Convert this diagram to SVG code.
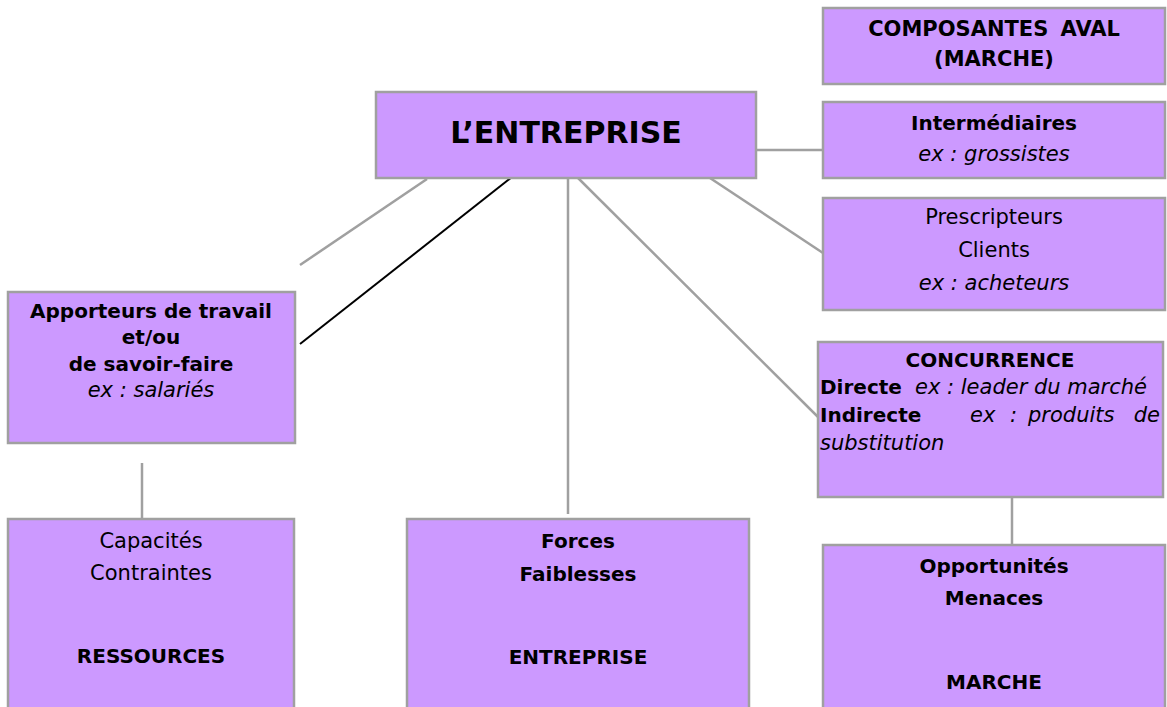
<svg xmlns="http://www.w3.org/2000/svg" width="1167" height="707" viewBox="0 0 1167 707">
<style>
.box{fill:#CC99FF;stroke:#A0A0A0;stroke-width:2.5}
.c{stroke:#A0A0A0;stroke-width:2.5;fill:none}
.k{stroke:#000;stroke-width:2;fill:none}
text{font-family:"Comic Sans MS","DejaVu Sans",sans-serif;fill:#000;font-size:20px}
.b{font-weight:bold}
.i{font-style:italic;font-size:21px}
.r{font-size:21px}
.m{text-anchor:middle}
.big{font-size:30px}
.h{font-size:21px;word-spacing:5px}
</style>
<rect width="1167" height="707" fill="#fff"/>
<g id="connectors">
<line class="c" x1="742" y1="150" x2="838" y2="150"/>
<line class="c" x1="427" y1="179" x2="300" y2="265"/>
<line class="k" x1="512" y1="177" x2="300" y2="344"/>
<line class="c" x1="568" y1="168" x2="568" y2="514"/>
<line class="c" x1="568" y1="168" x2="818" y2="417"/>
<line class="c" x1="710" y1="178" x2="823" y2="253"/>
<line class="c" x1="142" y1="463" x2="142" y2="519"/>
<line class="c" x1="1012" y1="497" x2="1012" y2="553"/>
</g>
<g id="n-aval">
<rect class="box" x="823" y="8" width="342" height="76"/>
<text class="b m h" x="994" y="36">COMPOSANTES AVAL</text>
<text class="b m h" x="994" y="66">(MARCHE)</text>
</g>
<g id="n-entreprise">
<rect class="box" x="376" y="92" width="380" height="86"/>
<text class="b m big" x="566" y="143">L’ENTREPRISE</text>
</g>
<g id="n-intermediaires">
<rect class="box" x="823" y="102" width="342" height="76"/>
<text class="b m" x="994" y="130">Intermédiaires</text>
<text class="i m" x="994" y="161">ex : grossistes</text>
</g>
<g id="n-prescripteurs">
<rect class="box" x="823" y="198" width="342" height="112"/>
<text class="r m" x="994" y="224">Prescripteurs</text>
<text class="r m" x="994" y="257">Clients</text>
<text class="i m" x="994" y="290">ex : acheteurs</text>
</g>
<g id="n-apporteurs">
<rect class="box" x="8" y="292" width="287" height="151"/>
<text class="b m" x="151" y="318">Apporteurs de travail</text>
<text class="b m" x="151" y="344">et/ou</text>
<text class="b m" x="151" y="371">de savoir-faire</text>
<text class="i m" x="151" y="397">ex : salariés</text>
</g>
<g id="n-concurrence">
<rect class="box" x="818" y="342" width="345" height="155"/>
<text class="b m" x="990" y="367">CONCURRENCE</text>
<text x="820" y="394"><tspan class="b">Directe</tspan><tspan class="i" x="915">ex : leader du marché</tspan></text>
<text x="820" y="422" class="b">Indirecte</text>
<text x="970" y="422" class="i">ex</text>
<text x="1010" y="422" class="i">:</text>
<text x="1028" y="422" class="i">produits</text>
<text x="1160" y="422" class="i" text-anchor="end">de</text>
<text x="820" y="450" class="i">substitution</text>
</g>
<g id="n-ressources">
<rect class="box" x="8" y="519" width="286" height="200"/>
<text class="r m" x="151" y="548">Capacités</text>
<text class="r m" x="151" y="580">Contraintes</text>
<text class="b m" x="151" y="663">RESSOURCES</text>
</g>
<g id="n-forces">
<rect class="box" x="407" y="519" width="342" height="200"/>
<text class="b m" x="578" y="548">Forces</text>
<text class="b m" x="578" y="581">Faiblesses</text>
<text class="b m" x="578" y="664">ENTREPRISE</text>
</g>
<g id="n-marche">
<rect class="box" x="823" y="545" width="342" height="175"/>
<text class="b m" x="994" y="573">Opportunités</text>
<text class="b m" x="994" y="605">Menaces</text>
<text class="b m" x="994" y="689">MARCHE</text>
</g>
</svg>
